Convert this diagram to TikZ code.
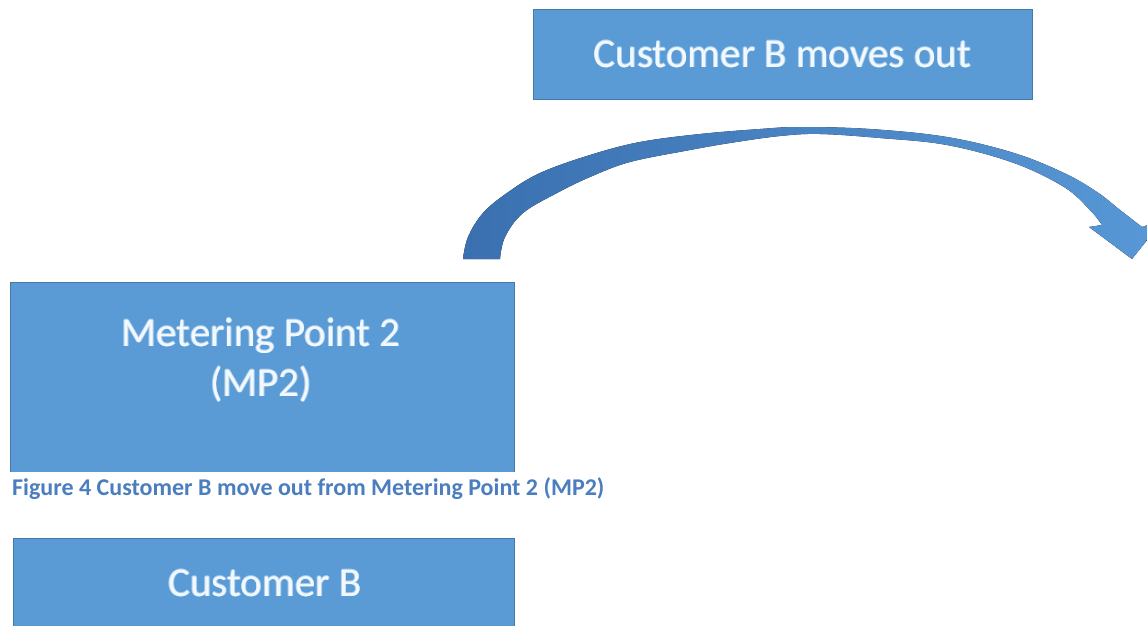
\documentclass[tikz,border=0pt]{standalone}
\usepackage{fontspec}
\setmainfont{Carlito}
\definecolor{panelfill}{RGB}{91,155,213}
\definecolor{paneledge}{RGB}{70,120,170}
\definecolor{captionblue}{RGB}{74,126,190}
\definecolor{arrowdark}{RGB}{58,112,176}
\definecolor{arrowlight}{RGB}{88,152,214}
\definecolor{labelwhite}{RGB}{242,248,253}
\definecolor{halo}{RGB}{165,205,238}
% soft light outline behind panel labels
\newcommand\haloed[1]{\leavevmode
  \rlap{\color{halo}\kern-0.7pt #1}\rlap{\color{halo}\kern0.7pt #1}%
  \rlap{\color{halo}\raisebox{0.7pt}{#1}}\rlap{\color{halo}\raisebox{-0.7pt}{#1}}%
  #1}
\begin{document}
\begin{tikzpicture}[x=1pt,y=-1pt,
  panel/.style={draw=paneledge, line width=0.9pt, fill=panelfill, inner sep=0pt},
  paneltext/.style={text=labelwhite, font=\fontsize{41}{48}\selectfont, inner sep=0pt, anchor=base},
  captiontext/.style={text=captionblue, font=\bfseries\fontsize{24}{28}\selectfont, inner sep=0pt, anchor=base west}]
\useasboundingbox (0,0) rectangle (1147,625);
\clip (0,0) rectangle (1147,625);

% event box
\node[panel, minimum width=499pt, minimum height=90pt, anchor=north west] (movesout) at (533,9) {};
\node[paneltext] (movesouttext) at (782.5,67) {\haloed{Customer B moves out}};

% metering point box (runs on below the caption line)
\node[panel, minimum width=504pt, minimum height=210pt, anchor=north west] (mp2) at (10,282) {};
\node[paneltext] (mp2name) at (261,346) {\haloed{Metering Point 2}};
\node[paneltext] (mp2code) at (261,396) {\haloed{(MP2)}};

% curved move-out arrow
\fill[left color=arrowdark, right color=arrowlight]
  plot[smooth, tension=0.6] coordinates {(463,259) (468,237) (483,213) (507,193) (540,173) (590,155) (640,142) (700,134) (760,129) (800,127) (870,129) (947,137) (1014,153) (1064,173) (1097,192) (1120,210) (1142,227)}
  -- (1163,220) -- (1132,259) -- (1089,227)
  -- plot[smooth, tension=0.6] coordinates {(1102,225) (1090,210) (1064,187) (1014,163) (947,145) (880,138) (820,134) (780,136) (730,143) (690,150) (630,162) (590,177) (557,193) (523,213) (505,237) (500,259)}
  -- cycle;

% caption band
\fill[white] (0,472) rectangle (640,532);
\node[captiontext] (caption) at (12,495) {Figure 4 Customer B move out from Metering Point 2 (MP2)};

% customer box
\node[panel, minimum width=501pt, minimum height=120pt, anchor=north west] (custb) at (13,538) {};
\node[paneltext] (custbtext) at (265,596) {\haloed{Customer B}};
\end{tikzpicture}
\end{document}
